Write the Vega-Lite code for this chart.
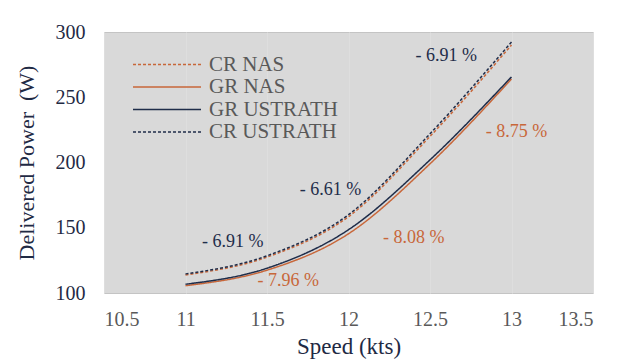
{
  "$schema": "https://vega.github.io/schema/vega-lite/v6.json",
  "width": 489,
  "height": 261,
  "autosize": {"type": "none"},
  "padding": {"left": 104, "top": 32, "right": 29, "bottom": 70},
  "background": "#ffffff",
  "config": {
    "font": "Liberation Serif",
    "view": {"fill": "#d9d9d9", "stroke": "#c4c4c4", "strokeWidth": 1},
    "style": {
      "guide-label": {"font": "Liberation Serif"},
      "guide-title": {"font": "Liberation Serif"},
      "text": {"font": "Liberation Serif"}
    }
  },
  "datasets": {
    "power": [
      {"speed": 11.0, "series": "CR NAS", "power": 113.8},
      {"speed": 11.5, "series": "CR NAS", "power": 127.5},
      {"speed": 12.0, "series": "CR NAS", "power": 158.5},
      {"speed": 12.5, "series": "CR NAS", "power": 220.0},
      {"speed": 13.0, "series": "CR NAS", "power": 290.0},
      {"speed": 11.0, "series": "GR NAS", "power": 105.6},
      {"speed": 11.5, "series": "GR NAS", "power": 117.5},
      {"speed": 12.0, "series": "GR NAS", "power": 145.4},
      {"speed": 12.5, "series": "GR NAS", "power": 199.0},
      {"speed": 13.0, "series": "GR NAS", "power": 264.0},
      {"speed": 11.0, "series": "GR USTRATH", "power": 106.7},
      {"speed": 11.5, "series": "GR USTRATH", "power": 119.0},
      {"speed": 12.0, "series": "GR USTRATH", "power": 148.5},
      {"speed": 12.5, "series": "GR USTRATH", "power": 202.0},
      {"speed": 13.0, "series": "GR USTRATH", "power": 265.6},
      {"speed": 11.0, "series": "CR USTRATH", "power": 114.6},
      {"speed": 11.5, "series": "CR USTRATH", "power": 128.5},
      {"speed": 12.0, "series": "CR USTRATH", "power": 160.0},
      {"speed": 12.5, "series": "CR USTRATH", "power": 222.0},
      {"speed": 13.0, "series": "CR USTRATH", "power": 292.3}
    ],
    "notes": [
      {"speed": 11.29, "power": 139, "label": "- 6.91 %", "group": "USTRATH"},
      {"speed": 11.89, "power": 179, "label": "- 6.61 %", "group": "USTRATH"},
      {"speed": 12.6, "power": 281.5, "label": "- 6.91 %", "group": "USTRATH"},
      {"speed": 11.63, "power": 109, "label": "- 7.96 %", "group": "NAS"},
      {"speed": 12.4, "power": 142, "label": "- 8.08 %", "group": "NAS"},
      {"speed": 13.03, "power": 223, "label": "- 8.75 %", "group": "NAS"}
    ]
  },
  "layer": [
    {
      "data": {"name": "power"},
      "mark": {"type": "line", "interpolate": "monotone", "strokeWidth": 1.5},
      "encoding": {
        "x": {
          "field": "speed", "type": "quantitative",
          "scale": {"domain": [10.5, 13.5], "nice": false, "zero": false},
          "axis": {
            "values": [10.5, 11, 11.5, 12, 12.5, 13, 13.5], "format": ".1~f",
            "title": "Speed (kts)", "titleFont": "Liberation Serif", "titleFontSize": 23,
            "titleFontWeight": "normal", "titleColor": "#1f2a44", "titlePadding": 6,
            "labelFont": "Liberation Serif", "labelFontSize": 20, "labelColor": "#595959", "labelPadding": 16,
            "domain": false, "ticks": false,
            "grid": true, "gridColor": "#dedede", "gridWidth": 1
          }
        },
        "y": {
          "field": "power", "type": "quantitative",
          "scale": {"domain": [100, 300], "nice": false, "zero": false},
          "axis": {
            "values": [100, 150, 200, 250, 300],
            "title": "Delivered Power \u00a0(W)", "titleFont": "Liberation Serif", "titleFontSize": 22,
            "titleFontWeight": "normal", "titleColor": "#1f2a44", "titlePadding": 17,
            "labelFont": "Liberation Serif", "labelFontSize": 20, "labelColor": "#1f2a44", "labelPadding": 19,
            "domain": false, "ticks": false, "grid": false
          }
        },
        "color": {
          "field": "series", "type": "nominal",
          "scale": {
            "domain": ["CR NAS", "GR NAS", "GR USTRATH", "CR USTRATH"],
            "range": ["#c8673a", "#c8673a", "#1f2d4a", "#1f2d4a"]
          },
          "legend": {
            "title": null, "orient": "none", "legendX": 28, "legendY": 22,
            "symbolType": "stroke", "symbolSize": 4624, "symbolStrokeWidth": 1.5,
            "labelFont": "Liberation Serif", "labelFontSize": 21, "labelColor": "#595959", "labelOffset": 7,
            "clipHeight": 21, "rowPadding": 0.5
          }
        },
        "strokeDash": {
          "field": "series", "type": "nominal",
          "scale": {
            "domain": ["CR NAS", "GR NAS", "GR USTRATH", "CR USTRATH"],
            "range": [[3, 2], [1, 0], [1, 0], [3, 2]]
          },
          "legend": {
            "title": null, "orient": "none", "legendX": 28, "legendY": 22,
            "symbolType": "stroke", "symbolSize": 4624, "symbolStrokeWidth": 1.5,
            "labelFont": "Liberation Serif", "labelFontSize": 21, "labelColor": "#595959", "labelOffset": 7,
            "clipHeight": 21, "rowPadding": 0.5
          }
        }
      }
    },
    {
      "data": {"name": "notes"},
      "transform": [{"filter": "datum.group === 'USTRATH'"}],
      "mark": {"type": "text", "font": "Liberation Serif", "fontSize": 18, "align": "center", "baseline": "middle", "color": "#1f2d4a"},
      "encoding": {
        "x": {"field": "speed", "type": "quantitative"},
        "y": {"field": "power", "type": "quantitative"},
        "text": {"field": "label"}
      }
    },
    {
      "data": {"name": "notes"},
      "transform": [{"filter": "datum.group === 'NAS'"}],
      "mark": {"type": "text", "font": "Liberation Serif", "fontSize": 18, "align": "center", "baseline": "middle", "color": "#c8673a"},
      "encoding": {
        "x": {"field": "speed", "type": "quantitative"},
        "y": {"field": "power", "type": "quantitative"},
        "text": {"field": "label"}
      }
    }
  ]
}
